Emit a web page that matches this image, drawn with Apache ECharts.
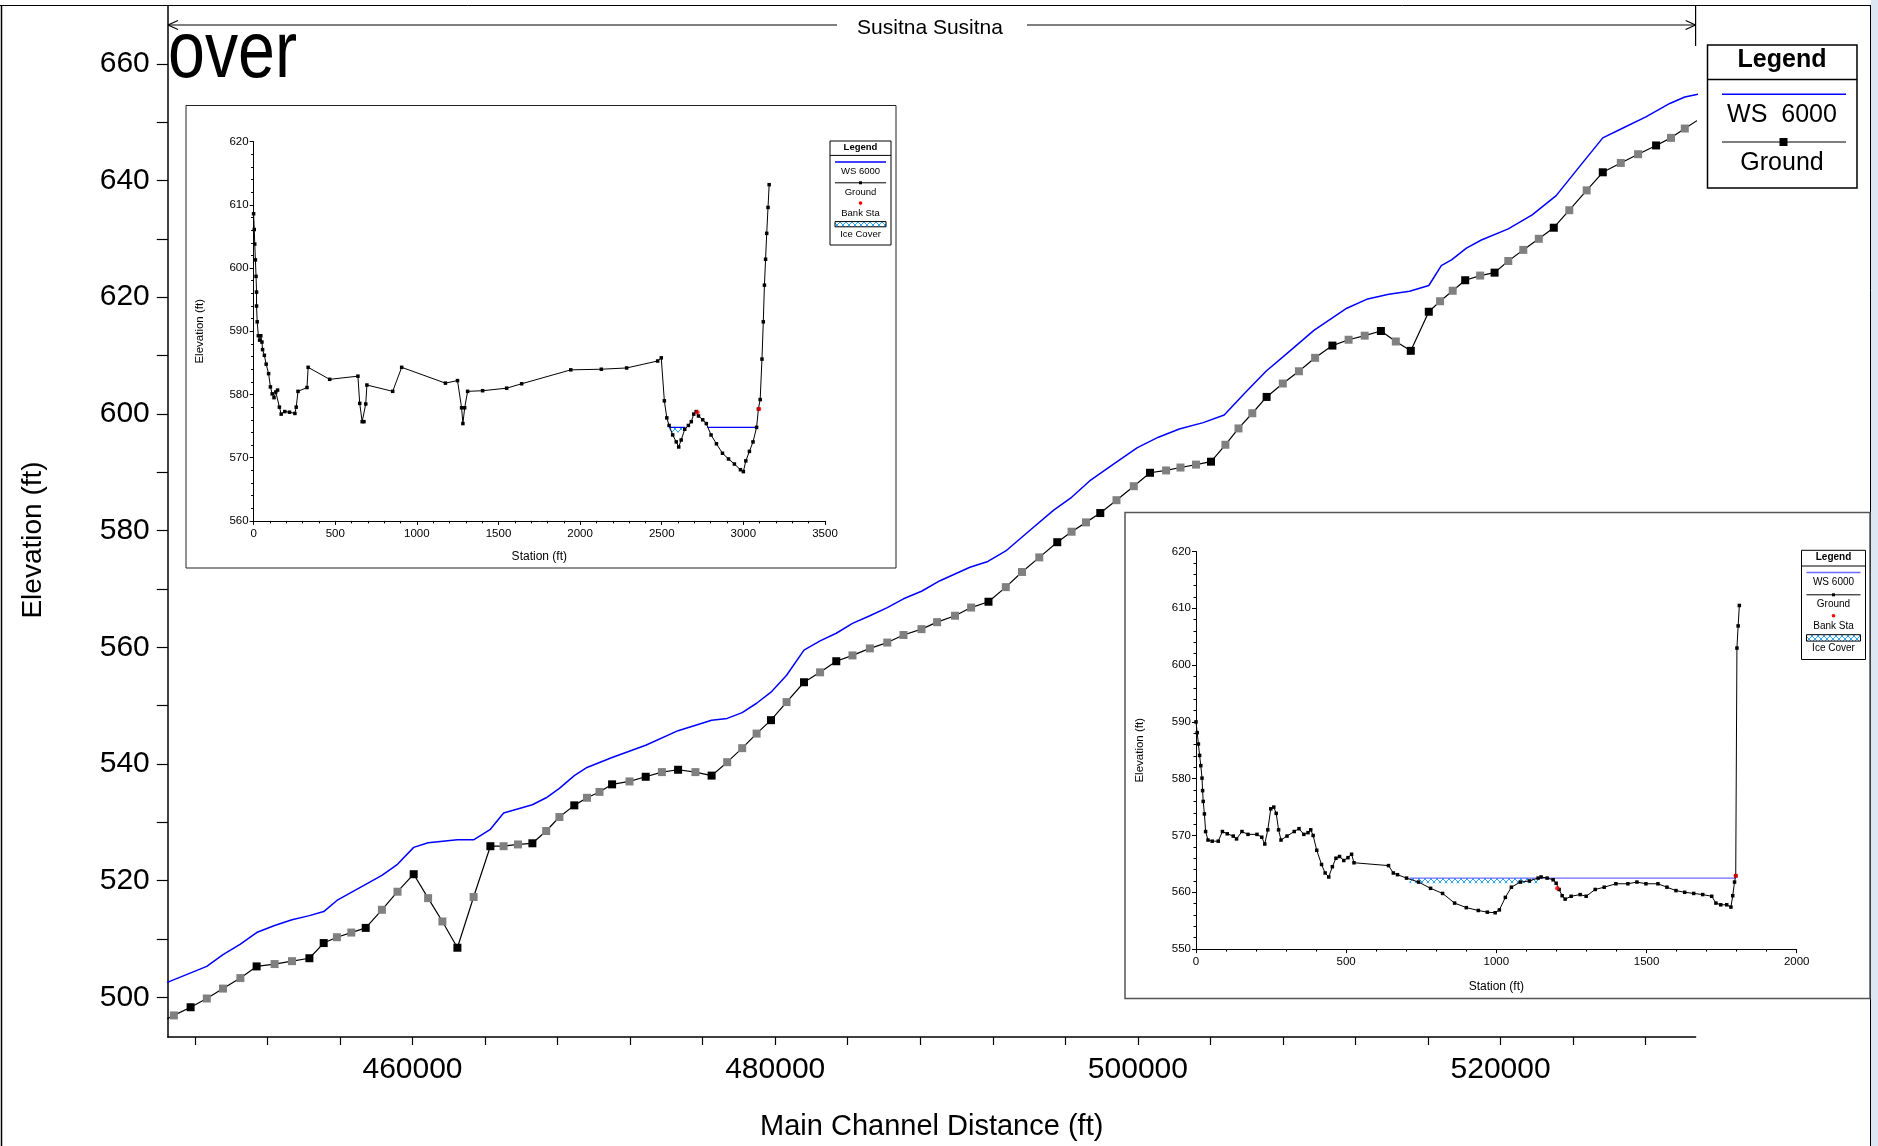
<!DOCTYPE html>
<html><head><meta charset="utf-8">
<script src="https://cdn.jsdelivr.net/npm/echarts@6/dist/echarts.min.js"></script>
<style>html,body{margin:0;padding:0;background:#fff}#c{width:1878px;height:1146px}</style>
</head><body><div id="c"></div>
<script>
const FONT = '"Liberation Sans", Arial, sans-serif';

// ---------- Main profile (Main Channel Distance vs Elevation) ----------
const groundStation = [446000,446843,447765,448657,449551,450510,451404,452396,453356,454315,455103,455831,456626,457420,458313,459173,460066,460860,461649,462476,463369,464295,465023,465817,466611,467372,468100,468922,469622,470311,471006,471966,472859,473752,474645,475600,476493,477353,478180,478974,479768,480628,481587,482475,483368,484262,485221,486181,487074,488067,488927,489914,490802,491761,492715,493608,494562,495554,496343,497137,497925,498819,499773,500667,501555,502349,503204,504031,504825,505547,506308,507097,507990,508878,509771,510725,511618,512506,513399,514221,515048,516040,516663,517358,518047,518874,519668,520423,521250,522105,522932,523787,524746,525634,526627,527581,528573,529395,530156,531100];
const groundElev = [495.6,496.9,498.3,499.8,501.5,503.3,505.3,505.7,506.2,506.7,509.3,510.3,511.1,511.9,515.0,518.1,521.1,517.0,513.0,508.5,517.2,525.9,525.9,526.2,526.4,528.5,530.9,532.9,534.2,535.2,536.5,537.0,537.8,538.6,539.0,538.6,538.0,540.3,542.7,545.2,547.5,550.6,554.0,555.7,557.6,558.6,559.8,560.8,562.1,563.1,564.3,565.4,566.8,567.8,570.3,572.9,575.4,578.0,579.8,581.4,583.0,585.2,587.6,589.9,590.3,590.8,591.3,591.8,594.7,597.5,600.1,602.9,605.2,607.3,609.6,611.7,612.7,613.4,614.2,612.4,610.8,617.5,619.3,621.1,622.9,623.7,624.2,626.2,628.1,630.0,631.9,634.9,638.3,641.4,643.0,644.5,646.0,647.3,648.9,650.8];
// 1 = interpolated section (grey marker), 0 = surveyed section (black marker)
const groundInterp = [1,1,0,1,1,1,0,1,1,0,0,1,1,0,1,1,0,1,1,0,1,0,1,1,0,1,1,0,1,1,0,1,0,1,0,1,0,1,1,1,0,1,0,1,0,1,1,1,1,1,1,1,1,0,1,1,1,0,1,1,0,1,1,0,1,1,1,0,1,1,1,0,1,1,1,0,1,1,0,1,0,0,1,1,0,1,0,1,1,1,0,1,1,0,1,1,0,1,1,1];
const wsStation = [446000,446514,448657,449551,450510,451404,452396,453356,454315,455103,455831,456626,458313,459173,460066,460860,462476,463369,464295,465023,466611,467372,468100,468922,469622,471006,472859,474645,476493,477353,478180,478974,479768,480628,481587,482475,483368,484262,485221,486181,487074,488067,489087,490736,491728,492715,494033,495357,496343,497337,498654,499972,501130,502283,503601,504759,505912,507063,508387,509705,511519,512672,513830,514982,516041,516730,517293,518115,518941,520423,521741,523064,524382,525634,526693,528011,529329,530156,530752,531200];
const wsElev = [502.0,502.6,505.3,507.3,509.1,511.1,512.3,513.3,514.0,514.7,516.6,518.0,520.9,522.8,525.7,526.5,527.0,527.0,528.8,531.6,533.0,534.2,535.8,538.0,539.4,541.1,543.2,545.7,547.5,547.8,548.8,550.4,552.3,555.2,559.5,561.1,562.4,564.1,565.4,566.8,568.3,569.6,571.4,573.7,574.7,576.5,580.0,583.5,585.7,588.5,591.4,594.2,596.0,597.4,598.5,599.8,603.6,607.3,610.8,614.3,618.1,619.7,620.5,621.0,622.0,625.4,626.4,628.4,629.8,631.7,634.1,637.4,642.5,647.3,648.9,650.9,653.2,654.3,654.7,654.9];
const xTickValues = [448000,452000,456000,460000,464000,468000,472000,476000,480000,484000,488000,492000,496000,500000,504000,508000,512000,516000,520000,524000,528000];
const xLabelValues = [460000,480000,500000,520000];
const yTickValues = [500,510,520,530,540,550,560,570,580,590,600,610,620,630,640,650,660];
const yLabelValues = [500,520,540,560,580,600,620,640,660];

// ---------- Inset 1 cross section ----------
const xs1Station = [0,4,7,11,15,18,18,22,29,37,44,51,55,66,77,92,103,114,125,136,147,158,169,191,220,253,261,272,327,334,466,639,650,665,676,687,694,852,907,1175,1249,1274,1282,1293,1311,1403,1550,1642,1943,2130,2285,2475,2497,2516,2531,2545,2567,2589,2604,2619,2641,2663,2681,2696,2711,2725,2751,2773,2802,2835,2872,2909,2945,2982,3000,3015,3037,3059,3081,3092,3103,3114,3122,3129,3136,3143,3151,3158];
const xs1Elev = [608.6,606.1,603.8,601.3,598.7,596.2,594,591.5,589.3,588.6,589.3,588.3,587.1,586.2,584.8,583.3,581.2,580.1,579.5,580.4,580.7,578,576.9,577.3,577.2,577,578,580.5,581.1,584.3,582.4,582.9,578.6,575.7,575.7,578.5,581.5,580.5,584.3,581.8,582.2,577.9,575.4,577.9,580.5,580.6,581,581.7,583.9,584,584.2,585.3,585.8,579,576.3,575.1,573.6,572.5,571.7,572.8,574.5,575.1,575.7,576.9,577.3,576.6,576,575.4,573.6,572.2,570.7,569.8,569,568.1,567.8,569.5,571,572.5,574.8,577.7,579.2,585.6,591.5,597.3,601.4,605.5,609.6,613.2];
const xs1BankStation = [2718,3096];
const xs1BankElev = [577.2,577.7];
const xs1WsSegments = [[2547,2644],[2780,3082]];
const xs1WsElev = 574.8;
const xs1Ice = [[2547,2625,574.8,574.0]];

// ---------- Inset 2 cross section ----------
const xs2Station = [0,4,8,12,16,20,22,24,28,32,40,54,74,88,104,124,135,153,173,203,219,229,239,249,259,267,275,283,303,327,343,359,373,382,390,402,418,430,442,454,466,478,492,506,518,526,641,657,671,701,741,781,821,861,900,940,970,996,1010,1030,1050,1080,1110,1139,1149,1169,1189,1199,1209,1219,1229,1249,1279,1299,1329,1359,1398,1438,1468,1498,1538,1568,1598,1627,1657,1687,1717,1731,1747,1767,1781,1787,1793,1797,1801,1805,1809];
const xs2Elev = [590,588.1,586.1,584.1,582.3,580.1,577.9,576,573.8,570.7,569.2,569,569,570.7,570.3,569.9,569.4,570.7,570.2,570.2,569.7,568.5,571,574.7,575,573.9,571,569.2,569.9,570.7,571.2,570.2,570.5,571,570,567.4,564.9,563.4,562.7,564.5,566,566.3,565.6,566.1,566.7,565.2,564.7,563.4,563.1,562.5,561.8,560.7,559.8,558.1,557.3,556.8,556.5,556.4,556.9,559.1,560.9,561.8,562,562.5,562.7,562.5,562.2,561.6,560.5,559.4,558.8,559.3,559.6,559.3,560.5,560.9,561.5,561.5,561.8,561.5,561.5,560.9,560.3,560,559.8,559.6,559.3,558.1,557.8,557.8,557.4,559.4,561.8,562.9,603,606.9,610.5];
const xs2BankStation = [1203,1797];
const xs2BankElev = [560.7,562.9];
const xs2WsSegments = [[711,1797]];
const xs2WsElev = 562.5;
const xs2Ice = [[711,1139,562.5,561.6]];

// ---------- ice hatch pattern ----------
const pc = document.createElement('canvas'); pc.width = 6; pc.height = 6;
(function(){const g = pc.getContext('2d'); g.fillStyle = '#ffffff'; g.fillRect(0,0,6,6);
 g.strokeStyle = '#2aa8f0'; g.lineWidth = 1; g.beginPath(); g.moveTo(0,0); g.lineTo(6,6); g.moveTo(6,0); g.lineTo(0,6); g.stroke();})();
const icePattern = {image: pc, repeat: 'repeat'};

// ---------- graphic helpers ----------
const G = [];
function gLine(x1,y1,x2,y2,color,w,z){G.push({type:'line',silent:true,z:z,shape:{x1,y1,x2,y2},style:{stroke:color,lineWidth:w}});}
function gRect(x,y,w,h,fill,stroke,lw,z){G.push({type:'rect',silent:true,z:z,shape:{x,y,width:w,height:h},style:{fill:fill,stroke:stroke,lineWidth:lw}});}
function gText(x,y,str,size,z,extra){const st={text:str,fontSize:size,fontFamily:FONT,fill:'#000',align:'center',verticalAlign:'middle',textAlign:'center',textVerticalAlign:'middle'};
 const el={type:'text',silent:true,z:z,x:x,y:y,style:st}; if(extra){if(extra.style)Object.assign(st,extra.style); for(const k in extra){if(k!=='style')el[k]=extra[k];}} G.push(el);}

// outer frame
gRect(1871,0,7,1146,'#dde7f3',null,0,1);
gLine(0,5.5,1870,5.5,'#000',1,1);
gLine(1.5,5,1.5,1146,'#000',1.5,1);
gLine(1870.5,5,1870.5,1146,'#000',1,1);
// reach arrow
gLine(168,25,837,25,'#000',1.2,1);
gLine(1027,25,1695.6,25,'#000',1.2,1);
gLine(168,25,178,20.5,'#000',1.2,1); gLine(168,25,178,29.5,'#000',1.2,1);
gLine(1695.6,25,1685.6,20.5,'#000',1.2,1); gLine(1695.6,25,1685.6,29.5,'#000',1.2,1);
gLine(1695.6,5,1695.6,46,'#000',1.2,1);
gText(930,28,'Susitna Susitna',21,1);
// clipped title
gText(168,55,'over',79,1,{scaleX:0.84,style:{align:'left',textAlign:'left'}});
// y axis title
gText(33.5,540,'Elevation (ft)',28,1,{rotation:Math.PI/2});
// main legend
gRect(1707.5,45,149.5,143,'#fff','#000',1.5,5);
gText(1782,60,'Legend',25,6,{style:{fontWeight:'bold'}});
gLine(1707.5,79.5,1857,79.5,'#000',1.5,6);
gLine(1722,94.3,1846,94.3,'#0000ff',1.5,6);
gText(1782,115.4,'WS  6000',25,6);
gLine(1722,142,1846,142,'#000',1.2,6);
gRect(1779.5,138,8,8,'#000',null,0,6);
gText(1782,162.8,'Ground',25,6);

// inset backgrounds
gRect(186,105.5,710,462.5,'#fff','#222',1,10);
gRect(1125,512.5,745,486,'#fff','#555',1.5,10);

function insetLegend(x,y,w,h,p,fs,blue,z){
  const cx = x + w/2;
  gRect(x,y,w,h,'#fff','#000',1,z);
  gText(cx,p.title,'Legend',fs,z+1,{style:{fontWeight:'bold'}});
  gLine(x,p.sep,x+w,p.sep,'#000',1,z+1);
  gLine(x+5,p.ws,x+w-5,p.ws,blue,1.5,z+1);
  gText(cx,p.wsT,'WS 6000',fs,z+1);
  gLine(x+5,p.gr,x+w-5,p.gr,'#000',1,z+1);
  gRect(cx-1.5,p.gr-1.5,3,3,'#000',null,0,z+1);
  gText(cx,p.grT,'Ground',fs,z+1);
  G.push({type:'circle',silent:true,z:z+1,shape:{cx:cx,cy:p.bank,r:1.8},style:{fill:'#ff0000'}});
  gText(cx,p.bankT,'Bank Sta',fs,z+1);
  G.push({type:'rect',silent:true,z:z+1,shape:{x:x+5,y:p.ice,width:w-10,height:p.iceH},style:{fill:icePattern,stroke:'#000',lineWidth:1}});
  gText(cx,p.iceT,'Ice Cover',fs,z+1);
}
insetLegend(830,141,61,104,{title:147.5,sep:155.4,ws:162,wsT:171.3,gr:182.8,grT:192.4,bank:203.1,bankT:213.5,ice:221.6,iceH:5.2,iceT:234.6},9.5,'#0000ff',13);
insetLegend(1801.5,550.3,64,109.2,{title:557.3,sep:566,ws:572.5,wsT:582.4,gr:594.8,grT:604.2,bank:615.8,bankT:626.5,ice:634.7,iceH:6.4,iceT:648.3},10,'#6b6bff',13);

// ---------- series helpers ----------
function pairs(a,b){return a.map((v,i)=>[v,b[i]]);}
function wsSeries(segs,elev,ax,color){return segs.map(s=>({type:'line',xAxisIndex:ax,yAxisIndex:ax,z:12,symbol:'none',silent:true,
  data:[[s[0],elev],[s[1],elev]],lineStyle:{color:color,width:1.3}}));}
function iceSeries(ice,ax){return {type:'custom',xAxisIndex:ax,yAxisIndex:ax,z:11,silent:true,data:ice,encode:{x:[0,1],y:[2,3]},
  renderItem:function(params,api){const a=api.coord([api.value(0),api.value(2)]);const b=api.coord([api.value(1),api.value(3)]);
   return {type:'rect',shape:{x:a[0],y:a[1],width:b[0]-a[0],height:b[1]-a[1]},style:{fill:icePattern}};}};}

function insetX(grid,max,nameGap){return {gridIndex:grid,type:'value',min:0,max:max,interval:500,z:11,
  axisLine:{onZero:false,lineStyle:{color:'#000',width:1}},axisTick:{length:4,lineStyle:{color:'#000'}},
  minorTick:{show:true,splitNumber:5,length:2.5,lineStyle:{color:'#000'}},splitLine:{show:false},
  axisLabel:{fontSize:11.5,color:'#000',margin:7,fontFamily:FONT,formatter:v=>String(v)},
  name:'Station (ft)',nameLocation:'middle',nameGap:nameGap,nameTextStyle:{fontSize:12,color:'#000',fontFamily:FONT}};}
function insetY(grid,min,max,nameGap){return {gridIndex:grid,type:'value',min:min,max:max,interval:10,z:11,
  axisLine:{onZero:false,lineStyle:{color:'#000',width:1}},axisTick:{length:4,lineStyle:{color:'#000'}},
  minorTick:{show:true,splitNumber:5,length:2.5,lineStyle:{color:'#000'}},splitLine:{show:false},
  axisLabel:{fontSize:11.5,color:'#000',margin:5,fontFamily:FONT,formatter:v=>String(v)},
  name:'Elevation (ft)',nameLocation:'middle',nameGap:nameGap,nameTextStyle:{fontSize:11.5,color:'#000',fontFamily:FONT}};}

const chart = echarts.init(document.getElementById('c'), null, {renderer:'canvas', width:1878, height:1146});
const option = {
  animation:false,
  backgroundColor:'#fff',
  textStyle:{fontFamily:FONT},
  grid:[
    {left:167.8,top:6,width:1527.8,height:1031.6},
    {left:253.6,top:141.7,width:571.4,height:379.2},
    {left:1196,top:551.5,width:600.7,height:397.6}
  ],
  xAxis:[
    {gridIndex:0,type:'value',min:446507,max:530752,
     axisLine:{onZero:false,lineStyle:{color:'#000',width:1.5}},
     axisTick:{customValues:xTickValues,length:8,lineStyle:{color:'#000',width:1.2}},
     axisLabel:{customValues:xLabelValues,formatter:v=>String(v),fontSize:30,color:'#000',margin:18,fontFamily:FONT},
     splitLine:{show:false},
     name:'Main Channel Distance (ft)',nameLocation:'middle',nameGap:75,
     nameTextStyle:{fontSize:29,color:'#000',fontFamily:FONT}},
    insetX(1,3500,30),
    insetX(2,2000,32)
  ],
  yAxis:[
    {gridIndex:0,type:'value',min:493.2,max:669.9,
     axisLine:{onZero:false,lineStyle:{color:'#000',width:1.5}},
     axisTick:{customValues:yTickValues,length:11,lineStyle:{color:'#000',width:1.2}},
     axisLabel:{customValues:yLabelValues,fontSize:30,color:'#000',margin:18,fontFamily:FONT},
     splitLine:{show:false}},
    insetY(1,560,620,48),
    insetY(2,550,620,50)
  ],
  graphic:{elements:G},
  series:[
    {type:'line',xAxisIndex:0,yAxisIndex:0,z:2,symbol:'none',silent:true,clip:true,
     data:pairs(wsStation,wsElev),lineStyle:{color:'#0000ff',width:1.5}},
    {type:'line',xAxisIndex:0,yAxisIndex:0,z:3,symbol:'rect',symbolSize:8,showAllSymbol:true,silent:true,clip:true,
     data:groundStation.map((s,i)=>({value:[s,groundElev[i]],itemStyle:{color:groundInterp[i]?'#808080':'#000000'}})),
     lineStyle:{color:'#000',width:1.2}},
    iceSeries(xs1Ice,1),
    ...wsSeries(xs1WsSegments,xs1WsElev,1,'#0000ff'),
    {type:'line',xAxisIndex:1,yAxisIndex:1,z:12,symbol:'rect',symbolSize:3.5,showAllSymbol:true,silent:true,
     data:pairs(xs1Station,xs1Elev),lineStyle:{color:'#000',width:1},itemStyle:{color:'#000'}},
    {type:'scatter',xAxisIndex:1,yAxisIndex:1,z:13,symbolSize:4.5,silent:true,data:pairs(xs1BankStation,xs1BankElev),itemStyle:{color:'#ff0000'}},
    iceSeries(xs2Ice,2),
    ...wsSeries(xs2WsSegments,xs2WsElev,2,'#6b6bff'),
    {type:'line',xAxisIndex:2,yAxisIndex:2,z:12,symbol:'rect',symbolSize:3.5,showAllSymbol:true,silent:true,
     data:pairs(xs2Station,xs2Elev),lineStyle:{color:'#000',width:1},itemStyle:{color:'#000'}},
    {type:'scatter',xAxisIndex:2,yAxisIndex:2,z:13,symbolSize:4.5,silent:true,data:pairs(xs2BankStation,xs2BankElev),itemStyle:{color:'#ff0000'}}
  ]
};
chart.setOption(option);
</script></body></html>
